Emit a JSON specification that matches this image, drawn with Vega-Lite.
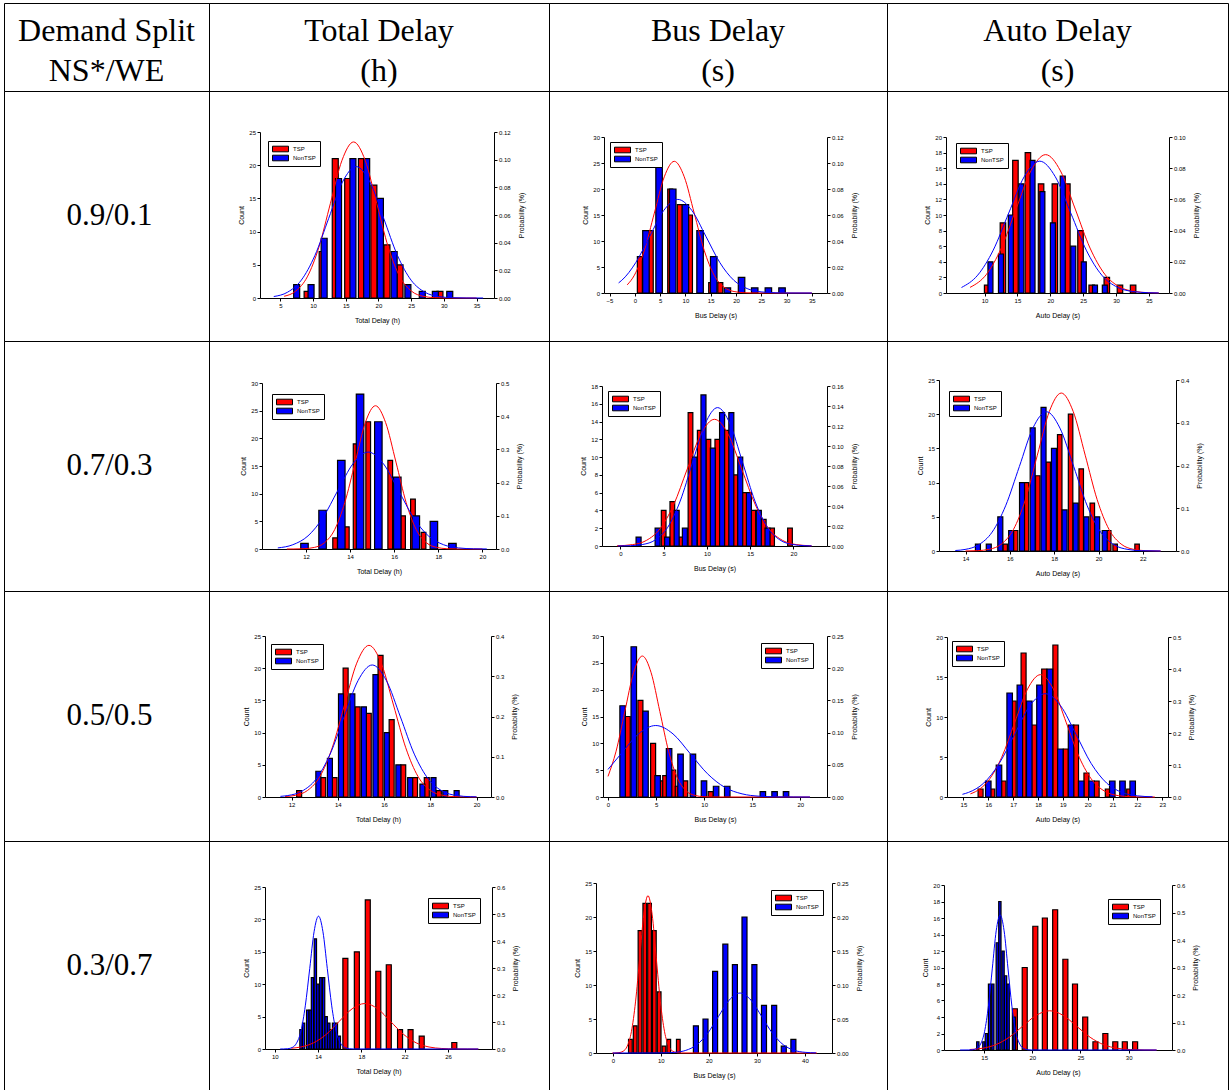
{
"$schema":"https://vega.github.io/schema/vega-lite/v6.json",
"padding":{"left":3,"top":2,"right":0,"bottom":0},
"background":"white",
"columns":4,"spacing":0,"bounds":"flush","align":"each",
"datasets":{
"bars":[
{"p":1,"s":"TSP","x":9.1,"n":1},{"p":1,"s":"TSP","x":11.4,"n":7},{"p":1,"s":"TSP","x":13.4,"n":21},{"p":1,"s":"TSP","x":15.3,"n":18},{"p":1,"s":"TSP","x":17.4,"n":21},{"p":1,"s":"TSP","x":19.3,"n":17},{"p":1,"s":"TSP","x":21.3,"n":8},{"p":1,"s":"TSP","x":23.3,"n":5},{"p":1,"s":"TSP","x":29.4,"n":1},
{"p":1,"s":"NonTSP","x":7.5,"n":2},{"p":1,"s":"NonTSP","x":9.7,"n":2},{"p":1,"s":"NonTSP","x":11.7,"n":9},{"p":1,"s":"NonTSP","x":13.9,"n":18},{"p":1,"s":"NonTSP","x":16.1,"n":21},{"p":1,"s":"NonTSP","x":18.2,"n":21},{"p":1,"s":"NonTSP","x":20.3,"n":15},{"p":1,"s":"NonTSP","x":22.4,"n":7},{"p":1,"s":"NonTSP","x":24.5,"n":2},{"p":1,"s":"NonTSP","x":26.7,"n":1},{"p":1,"s":"NonTSP","x":28.7,"n":1},{"p":1,"s":"NonTSP","x":30.9,"n":1},
{"p":2,"s":"TSP","x":1.0,"n":7},{"p":2,"s":"TSP","x":3.15,"n":12},{"p":2,"s":"TSP","x":7.0,"n":20},{"p":2,"s":"TSP","x":8.9,"n":17},{"p":2,"s":"TSP","x":10.9,"n":15},{"p":2,"s":"TSP","x":15.1,"n":2},{"p":2,"s":"TSP","x":16.9,"n":2},
{"p":2,"s":"NonTSP","x":2.2,"n":12},{"p":2,"s":"NonTSP","x":4.8,"n":25},{"p":2,"s":"NonTSP","x":7.5,"n":20},{"p":2,"s":"NonTSP","x":10.0,"n":17},{"p":2,"s":"NonTSP","x":12.9,"n":12},{"p":2,"s":"NonTSP","x":15.6,"n":7},{"p":2,"s":"NonTSP","x":18.3,"n":1},{"p":2,"s":"NonTSP","x":21.1,"n":3},{"p":2,"s":"NonTSP","x":23.7,"n":1},{"p":2,"s":"NonTSP","x":26.4,"n":1},{"p":2,"s":"NonTSP","x":29.1,"n":1},
{"p":3,"s":"TSP","x":10.4,"n":1},{"p":3,"s":"TSP","x":12.8,"n":9},{"p":3,"s":"TSP","x":14.7,"n":17},{"p":3,"s":"TSP","x":16.6,"n":18},{"p":3,"s":"TSP","x":18.6,"n":14},{"p":3,"s":"TSP","x":20.7,"n":14},{"p":3,"s":"TSP","x":22.6,"n":14},{"p":3,"s":"TSP","x":24.6,"n":8},{"p":3,"s":"TSP","x":26.3,"n":1},{"p":3,"s":"TSP","x":28.6,"n":2},{"p":3,"s":"TSP","x":30.6,"n":1},{"p":3,"s":"TSP","x":32.6,"n":1},
{"p":3,"s":"NonTSP","x":10.9,"n":4},{"p":3,"s":"NonTSP","x":12.5,"n":5},{"p":3,"s":"NonTSP","x":14.0,"n":10},{"p":3,"s":"NonTSP","x":15.6,"n":14},{"p":3,"s":"NonTSP","x":17.3,"n":17},{"p":3,"s":"NonTSP","x":18.8,"n":13},{"p":3,"s":"NonTSP","x":20.4,"n":9},{"p":3,"s":"NonTSP","x":21.9,"n":15},{"p":3,"s":"NonTSP","x":23.5,"n":6},{"p":3,"s":"NonTSP","x":25.1,"n":4},{"p":3,"s":"NonTSP","x":26.8,"n":1},{"p":3,"s":"NonTSP","x":28.3,"n":1},
{"p":4,"s":"TSP","x":13.32,"n":2},{"p":4,"s":"TSP","x":13.85,"n":4},{"p":4,"s":"TSP","x":14.25,"n":19},{"p":4,"s":"TSP","x":14.82,"n":23},{"p":4,"s":"TSP","x":15.82,"n":16},{"p":4,"s":"TSP","x":16.4,"n":6},{"p":4,"s":"TSP","x":16.85,"n":9},{"p":4,"s":"TSP","x":17.33,"n":3},
{"p":4,"s":"NonTSP","x":11.93,"n":1},{"p":4,"s":"NonTSP","x":12.75,"n":7},{"p":4,"s":"NonTSP","x":13.6,"n":16},{"p":4,"s":"NonTSP","x":14.45,"n":28},{"p":4,"s":"NonTSP","x":15.28,"n":23},{"p":4,"s":"NonTSP","x":16.14,"n":13},{"p":4,"s":"NonTSP","x":16.98,"n":6},{"p":4,"s":"NonTSP","x":17.8,"n":5},{"p":4,"s":"NonTSP","x":18.64,"n":1},
{"p":5,"s":"TSP","x":5.0,"n":4},{"p":5,"s":"TSP","x":6.0,"n":5},{"p":5,"s":"TSP","x":7.0,"n":1},{"p":5,"s":"TSP","x":8.1,"n":15},{"p":5,"s":"TSP","x":9.17,"n":13},{"p":5,"s":"TSP","x":10.17,"n":12},{"p":5,"s":"TSP","x":11.2,"n":12},{"p":5,"s":"TSP","x":12.3,"n":13},{"p":5,"s":"TSP","x":13.3,"n":8},{"p":5,"s":"TSP","x":14.33,"n":6},{"p":5,"s":"TSP","x":15.36,"n":4},{"p":5,"s":"TSP","x":16.57,"n":3},{"p":5,"s":"TSP","x":17.53,"n":2},{"p":5,"s":"TSP","x":19.6,"n":2},
{"p":5,"s":"NonTSP","x":2.1,"n":1},{"p":5,"s":"NonTSP","x":4.3,"n":2},{"p":5,"s":"NonTSP","x":5.4,"n":1},{"p":5,"s":"NonTSP","x":6.5,"n":4},{"p":5,"s":"NonTSP","x":7.45,"n":2},{"p":5,"s":"NonTSP","x":8.55,"n":10},{"p":5,"s":"NonTSP","x":9.6,"n":17},{"p":5,"s":"NonTSP","x":10.68,"n":11},{"p":5,"s":"NonTSP","x":11.75,"n":15},{"p":5,"s":"NonTSP","x":12.82,"n":15},{"p":5,"s":"NonTSP","x":13.85,"n":10},{"p":5,"s":"NonTSP","x":14.85,"n":6},{"p":5,"s":"NonTSP","x":16.0,"n":4},{"p":5,"s":"NonTSP","x":17.0,"n":2},
{"p":6,"s":"TSP","x":15.79,"n":1},{"p":6,"s":"TSP","x":16.26,"n":3},{"p":6,"s":"TSP","x":16.75,"n":10},{"p":6,"s":"TSP","x":17.26,"n":11},{"p":6,"s":"TSP","x":17.73,"n":13},{"p":6,"s":"TSP","x":18.25,"n":17},{"p":6,"s":"TSP","x":18.74,"n":20},{"p":6,"s":"TSP","x":19.22,"n":12},{"p":6,"s":"TSP","x":19.72,"n":7},{"p":6,"s":"TSP","x":20.46,"n":3},{"p":6,"s":"TSP","x":20.75,"n":1},{"p":6,"s":"TSP","x":21.74,"n":1},
{"p":6,"s":"NonTSP","x":14.56,"n":1},{"p":6,"s":"NonTSP","x":15.05,"n":1},{"p":6,"s":"NonTSP","x":15.57,"n":5},{"p":6,"s":"NonTSP","x":16.06,"n":3},{"p":6,"s":"NonTSP","x":16.55,"n":10},{"p":6,"s":"NonTSP","x":17.03,"n":18},{"p":6,"s":"NonTSP","x":17.52,"n":21},{"p":6,"s":"NonTSP","x":17.99,"n":15},{"p":6,"s":"NonTSP","x":18.47,"n":6},{"p":6,"s":"NonTSP","x":18.97,"n":7},{"p":6,"s":"NonTSP","x":19.45,"n":5},{"p":6,"s":"NonTSP","x":19.94,"n":5},{"p":6,"s":"NonTSP","x":20.28,"n":3},
{"p":7,"s":"TSP","x":12.33,"n":1},{"p":7,"s":"TSP","x":13.37,"n":3},{"p":7,"s":"TSP","x":13.86,"n":3},{"p":7,"s":"TSP","x":14.34,"n":20},{"p":7,"s":"TSP","x":14.86,"n":14},{"p":7,"s":"TSP","x":15.34,"n":13},{"p":7,"s":"TSP","x":15.85,"n":22},{"p":7,"s":"TSP","x":16.33,"n":12},{"p":7,"s":"TSP","x":16.83,"n":5},{"p":7,"s":"TSP","x":17.34,"n":3},{"p":7,"s":"TSP","x":17.85,"n":3},{"p":7,"s":"TSP","x":18.37,"n":1},
{"p":7,"s":"NonTSP","x":13.16,"n":4},{"p":7,"s":"NonTSP","x":13.66,"n":6},{"p":7,"s":"NonTSP","x":14.14,"n":16},{"p":7,"s":"NonTSP","x":14.63,"n":16},{"p":7,"s":"NonTSP","x":15.13,"n":14},{"p":7,"s":"NonTSP","x":15.63,"n":19},{"p":7,"s":"NonTSP","x":16.12,"n":10},{"p":7,"s":"NonTSP","x":16.62,"n":5},{"p":7,"s":"NonTSP","x":17.13,"n":3},{"p":7,"s":"NonTSP","x":17.66,"n":2},{"p":7,"s":"NonTSP","x":18.14,"n":3},{"p":7,"s":"NonTSP","x":18.65,"n":1},{"p":7,"s":"NonTSP","x":19.14,"n":1},
{"p":8,"s":"TSP","x":2.05,"n":15},{"p":8,"s":"TSP","x":3.37,"n":18},{"p":8,"s":"TSP","x":4.69,"n":10},{"p":8,"s":"TSP","x":5.5,"n":3},{"p":8,"s":"TSP","x":5.95,"n":4},{"p":8,"s":"TSP","x":6.78,"n":5},{"p":8,"s":"TSP","x":7.25,"n":2},{"p":8,"s":"TSP","x":8.03,"n":3},{"p":8,"s":"TSP","x":10.68,"n":1},
{"p":8,"s":"NonTSP","x":1.52,"n":17},{"p":8,"s":"NonTSP","x":2.68,"n":28},{"p":8,"s":"NonTSP","x":3.9,"n":16},{"p":8,"s":"NonTSP","x":5.16,"n":4},{"p":8,"s":"NonTSP","x":6.35,"n":9},{"p":8,"s":"NonTSP","x":7.54,"n":8},{"p":8,"s":"NonTSP","x":8.83,"n":8},{"p":8,"s":"NonTSP","x":9.98,"n":3},{"p":8,"s":"NonTSP","x":11.24,"n":2},{"p":8,"s":"NonTSP","x":12.4,"n":2},{"p":8,"s":"NonTSP","x":16.1,"n":1},{"p":8,"s":"NonTSP","x":17.32,"n":1},{"p":8,"s":"NonTSP","x":18.51,"n":1},
{"p":9,"s":"TSP","x":15.69,"n":1},{"p":9,"s":"TSP","x":16.16,"n":1},{"p":9,"s":"TSP","x":16.61,"n":2},{"p":9,"s":"TSP","x":17.02,"n":12},{"p":9,"s":"TSP","x":17.42,"n":18},{"p":9,"s":"TSP","x":17.84,"n":9},{"p":9,"s":"TSP","x":18.25,"n":16},{"p":9,"s":"TSP","x":18.7,"n":19},{"p":9,"s":"TSP","x":19.12,"n":6},{"p":9,"s":"TSP","x":19.53,"n":9},{"p":9,"s":"TSP","x":19.95,"n":3},{"p":9,"s":"TSP","x":20.36,"n":2},{"p":9,"s":"TSP","x":20.81,"n":1},{"p":9,"s":"TSP","x":21.67,"n":1},
{"p":9,"s":"NonTSP","x":16.0,"n":2},{"p":9,"s":"NonTSP","x":16.43,"n":4},{"p":9,"s":"NonTSP","x":16.86,"n":13},{"p":9,"s":"NonTSP","x":17.27,"n":14},{"p":9,"s":"NonTSP","x":17.65,"n":12},{"p":9,"s":"NonTSP","x":18.06,"n":14},{"p":9,"s":"NonTSP","x":18.48,"n":16},{"p":9,"s":"NonTSP","x":18.9,"n":6},{"p":9,"s":"NonTSP","x":19.33,"n":9},{"p":9,"s":"NonTSP","x":19.74,"n":2},{"p":9,"s":"NonTSP","x":20.16,"n":2},{"p":9,"s":"NonTSP","x":20.99,"n":2},{"p":9,"s":"NonTSP","x":21.4,"n":2},{"p":9,"s":"NonTSP","x":21.81,"n":2},
{"p":10,"s":"TSP","x":16.52,"n":14},{"p":10,"s":"TSP","x":17.58,"n":15},{"p":10,"s":"TSP","x":18.59,"n":23},{"p":10,"s":"TSP","x":19.56,"n":12},{"p":10,"s":"TSP","x":20.53,"n":13},{"p":10,"s":"TSP","x":21.57,"n":3},{"p":10,"s":"TSP","x":22.54,"n":3},{"p":10,"s":"TSP","x":23.57,"n":2},{"p":10,"s":"TSP","x":26.58,"n":1},
{"p":10,"s":"NonTSP","x":12.42,"n":3},{"p":10,"s":"NonTSP","x":12.66,"n":4},{"p":10,"s":"NonTSP","x":13.04,"n":6},{"p":10,"s":"NonTSP","x":13.28,"n":6},{"p":10,"s":"NonTSP","x":13.48,"n":11},{"p":10,"s":"NonTSP","x":13.75,"n":17},{"p":10,"s":"NonTSP","x":13.98,"n":10},{"p":10,"s":"NonTSP","x":14.25,"n":11},{"p":10,"s":"NonTSP","x":14.51,"n":11},{"p":10,"s":"NonTSP","x":14.75,"n":5},{"p":10,"s":"NonTSP","x":14.99,"n":4},{"p":10,"s":"NonTSP","x":15.22,"n":3},{"p":10,"s":"NonTSP","x":15.43,"n":4},{"p":10,"s":"NonTSP","x":15.69,"n":4},{"p":10,"s":"NonTSP","x":15.96,"n":2},
{"p":11,"s":"TSP","x":3.66,"n":2},{"p":11,"s":"TSP","x":4.66,"n":4},{"p":11,"s":"TSP","x":5.66,"n":18},{"p":11,"s":"TSP","x":6.66,"n":22},{"p":11,"s":"TSP","x":7.65,"n":22},{"p":11,"s":"TSP","x":8.65,"n":18},{"p":11,"s":"TSP","x":9.65,"n":9},{"p":11,"s":"TSP","x":10.65,"n":1},{"p":11,"s":"TSP","x":11.65,"n":2},{"p":11,"s":"TSP","x":13.64,"n":2},
{"p":11,"s":"NonTSP","x":17.3,"n":4},{"p":11,"s":"NonTSP","x":19.3,"n":5},{"p":11,"s":"NonTSP","x":21.3,"n":12},{"p":11,"s":"NonTSP","x":23.43,"n":16},{"p":11,"s":"NonTSP","x":25.42,"n":13},{"p":11,"s":"NonTSP","x":27.42,"n":20},{"p":11,"s":"NonTSP","x":29.48,"n":13},{"p":11,"s":"NonTSP","x":31.48,"n":7},{"p":11,"s":"NonTSP","x":33.6,"n":7},{"p":11,"s":"NonTSP","x":35.6,"n":1},{"p":11,"s":"NonTSP","x":37.6,"n":2},
{"p":12,"s":"TSP","x":18.19,"n":5},{"p":12,"s":"TSP","x":19.21,"n":10},{"p":12,"s":"TSP","x":20.31,"n":15},{"p":12,"s":"TSP","x":21.3,"n":16},{"p":12,"s":"TSP","x":22.37,"n":17},{"p":12,"s":"TSP","x":23.43,"n":11},{"p":12,"s":"TSP","x":24.43,"n":8},{"p":12,"s":"TSP","x":25.49,"n":4},{"p":12,"s":"TSP","x":26.55,"n":1},{"p":12,"s":"TSP","x":27.58,"n":2},{"p":12,"s":"TSP","x":28.61,"n":1},{"p":12,"s":"TSP","x":29.6,"n":1},{"p":12,"s":"TSP","x":30.67,"n":1},
{"p":12,"s":"NonTSP","x":14.34,"n":1},{"p":12,"s":"NonTSP","x":14.97,"n":1},{"p":12,"s":"NonTSP","x":15.23,"n":2},{"p":12,"s":"NonTSP","x":15.56,"n":8},{"p":12,"s":"NonTSP","x":15.9,"n":8},{"p":12,"s":"NonTSP","x":16.36,"n":13},{"p":12,"s":"NonTSP","x":16.63,"n":18},{"p":12,"s":"NonTSP","x":16.96,"n":12},{"p":12,"s":"NonTSP","x":17.22,"n":9},{"p":12,"s":"NonTSP","x":17.49,"n":8},{"p":12,"s":"NonTSP","x":18.12,"n":4}
],
"curves":[
{"p":1,"s":"TSP","x":5.58,"d":0.00125},{"p":1,"s":"TSP","x":7.35,"d":0.00496},{"p":1,"s":"TSP","x":9.12,"d":0.01526},{"p":1,"s":"TSP","x":10.89,"d":0.03663},{"p":1,"s":"TSP","x":12.66,"d":0.06841},{"p":1,"s":"TSP","x":14.43,"d":0.09955},{"p":1,"s":"TSP","x":16.2,"d":0.1128},{"p":1,"s":"TSP","x":17.97,"d":0.09955},{"p":1,"s":"TSP","x":19.74,"d":0.06841},{"p":1,"s":"TSP","x":21.51,"d":0.03663},{"p":1,"s":"TSP","x":23.28,"d":0.01526},{"p":1,"s":"TSP","x":25.05,"d":0.00496},{"p":1,"s":"TSP","x":26.82,"d":0.00125},{"p":1,"s":"TSP","x":28.59,"d":0.00025},{"p":1,"s":"TSP","x":30.36,"d":0.00004},{"p":1,"s":"TSP","x":35,"d":0},
{"p":1,"s":"NonTSP","x":4.0,"d":0.00106},{"p":1,"s":"NonTSP","x":6.1,"d":0.00417},{"p":1,"s":"NonTSP","x":8.2,"d":0.01285},{"p":1,"s":"NonTSP","x":10.3,"d":0.03085},{"p":1,"s":"NonTSP","x":12.4,"d":0.05762},{"p":1,"s":"NonTSP","x":14.5,"d":0.08384},{"p":1,"s":"NonTSP","x":16.6,"d":0.095},{"p":1,"s":"NonTSP","x":18.7,"d":0.08384},{"p":1,"s":"NonTSP","x":20.8,"d":0.05762},{"p":1,"s":"NonTSP","x":22.9,"d":0.03085},{"p":1,"s":"NonTSP","x":25.0,"d":0.01285},{"p":1,"s":"NonTSP","x":27.1,"d":0.00417},{"p":1,"s":"NonTSP","x":29.2,"d":0.00106},{"p":1,"s":"NonTSP","x":31.3,"d":0.00021},{"p":1,"s":"NonTSP","x":33.4,"d":0.00003},{"p":1,"s":"NonTSP","x":36,"d":0},
{"p":2,"s":"TSP","x":-1.5,"d":0.00625},{"p":2,"s":"TSP","x":-0.08,"d":0.01371},{"p":2,"s":"TSP","x":1.89,"d":0.03289},{"p":2,"s":"TSP","x":3.86,"d":0.06144},{"p":2,"s":"TSP","x":5.83,"d":0.0894},{"p":2,"s":"TSP","x":7.8,"d":0.1013},{"p":2,"s":"TSP","x":9.77,"d":0.0894},{"p":2,"s":"TSP","x":11.74,"d":0.06144},{"p":2,"s":"TSP","x":13.71,"d":0.03289},{"p":2,"s":"TSP","x":15.68,"d":0.01371},{"p":2,"s":"TSP","x":17.65,"d":0.00445},{"p":2,"s":"TSP","x":19.62,"d":0.00113},{"p":2,"s":"TSP","x":21.59,"d":0.00022},{"p":2,"s":"TSP","x":23.56,"d":0.00003},{"p":2,"s":"TSP","x":35,"d":0},
{"p":2,"s":"NonTSP","x":-3.2,"d":0.00778},{"p":2,"s":"NonTSP","x":-2.58,"d":0.00974},{"p":2,"s":"NonTSP","x":0.19,"d":0.02338},{"p":2,"s":"NonTSP","x":2.96,"d":0.04367},{"p":2,"s":"NonTSP","x":5.73,"d":0.06354},{"p":2,"s":"NonTSP","x":8.5,"d":0.072},{"p":2,"s":"NonTSP","x":11.27,"d":0.06354},{"p":2,"s":"NonTSP","x":14.04,"d":0.04367},{"p":2,"s":"NonTSP","x":16.81,"d":0.02338},{"p":2,"s":"NonTSP","x":19.58,"d":0.00974},{"p":2,"s":"NonTSP","x":22.35,"d":0.00316},{"p":2,"s":"NonTSP","x":25.12,"d":0.0008},{"p":2,"s":"NonTSP","x":27.89,"d":0.00016},{"p":2,"s":"NonTSP","x":30.66,"d":0.00002},{"p":2,"s":"NonTSP","x":35,"d":0},
{"p":3,"s":"TSP","x":7.8,"d":0.00361},{"p":3,"s":"TSP","x":10.3,"d":0.012},{"p":3,"s":"TSP","x":12.55,"d":0.0288},{"p":3,"s":"TSP","x":14.8,"d":0.0538},{"p":3,"s":"TSP","x":17.05,"d":0.07828},{"p":3,"s":"TSP","x":19.3,"d":0.0887},{"p":3,"s":"TSP","x":21.55,"d":0.07828},{"p":3,"s":"TSP","x":23.8,"d":0.0538},{"p":3,"s":"TSP","x":26.05,"d":0.0288},{"p":3,"s":"TSP","x":28.3,"d":0.012},{"p":3,"s":"TSP","x":30.55,"d":0.0039},{"p":3,"s":"TSP","x":32.8,"d":0.00099},{"p":3,"s":"TSP","x":35.05,"d":0.00019},{"p":3,"s":"TSP","x":36.5,"d":0.00005},
{"p":3,"s":"NonTSP","x":6.5,"d":0.00353},{"p":3,"s":"NonTSP","x":8.96,"d":0.01143},{"p":3,"s":"NonTSP","x":11.32,"d":0.02744},{"p":3,"s":"NonTSP","x":13.68,"d":0.05125},{"p":3,"s":"NonTSP","x":16.04,"d":0.07457},{"p":3,"s":"NonTSP","x":18.4,"d":0.0845},{"p":3,"s":"NonTSP","x":20.76,"d":0.07457},{"p":3,"s":"NonTSP","x":23.12,"d":0.05125},{"p":3,"s":"NonTSP","x":25.48,"d":0.02744},{"p":3,"s":"NonTSP","x":27.84,"d":0.01143},{"p":3,"s":"NonTSP","x":30.2,"d":0.00371},{"p":3,"s":"NonTSP","x":32.56,"d":0.00094},{"p":3,"s":"NonTSP","x":34.92,"d":0.00018},{"p":3,"s":"NonTSP","x":36.5,"d":0.00003},
{"p":4,"s":"TSP","x":11.13,"d":0.00003},{"p":4,"s":"TSP","x":11.45,"d":0.00014},{"p":4,"s":"TSP","x":11.91,"d":0.00094},{"p":4,"s":"TSP","x":12.38,"d":0.00479},{"p":4,"s":"TSP","x":12.84,"d":0.01896},{"p":4,"s":"TSP","x":13.3,"d":0.05838},{"p":4,"s":"TSP","x":13.76,"d":0.1401},{"p":4,"s":"TSP","x":14.23,"d":0.2617},{"p":4,"s":"TSP","x":14.69,"d":0.3808},{"p":4,"s":"TSP","x":15.15,"d":0.4315},{"p":4,"s":"TSP","x":15.61,"d":0.3808},{"p":4,"s":"TSP","x":16.08,"d":0.2617},{"p":4,"s":"TSP","x":16.54,"d":0.1401},{"p":4,"s":"TSP","x":17.0,"d":0.05838},{"p":4,"s":"TSP","x":17.46,"d":0.01896},{"p":4,"s":"TSP","x":17.93,"d":0.00479},{"p":4,"s":"TSP","x":18.39,"d":0.00094},{"p":4,"s":"TSP","x":18.85,"d":0.00014},{"p":4,"s":"TSP","x":20,"d":0},
{"p":4,"s":"NonTSP","x":10.72,"d":0.00324},{"p":4,"s":"NonTSP","x":11.4,"d":0.01283},{"p":4,"s":"NonTSP","x":12.09,"d":0.03951},{"p":4,"s":"NonTSP","x":12.77,"d":0.09481},{"p":4,"s":"NonTSP","x":13.45,"d":0.1771},{"p":4,"s":"NonTSP","x":14.14,"d":0.2577},{"p":4,"s":"NonTSP","x":14.82,"d":0.292},{"p":4,"s":"NonTSP","x":15.5,"d":0.2577},{"p":4,"s":"NonTSP","x":16.19,"d":0.1771},{"p":4,"s":"NonTSP","x":16.87,"d":0.09481},{"p":4,"s":"NonTSP","x":17.55,"d":0.03951},{"p":4,"s":"NonTSP","x":18.24,"d":0.01283},{"p":4,"s":"NonTSP","x":18.92,"d":0.00324},{"p":4,"s":"NonTSP","x":19.6,"d":0.00064},{"p":4,"s":"NonTSP","x":20.2,"d":0.0001},
{"p":5,"s":"TSP","x":-0.4,"d":0.0002},{"p":5,"s":"TSP","x":1.42,"d":0.00141},{"p":5,"s":"TSP","x":3.0,"d":0.00557},{"p":5,"s":"TSP","x":4.57,"d":0.01714},{"p":5,"s":"TSP","x":6.15,"d":0.04114},{"p":5,"s":"TSP","x":7.72,"d":0.07684},{"p":5,"s":"TSP","x":9.3,"d":0.1118},{"p":5,"s":"TSP","x":10.87,"d":0.1267},{"p":5,"s":"TSP","x":12.45,"d":0.1118},{"p":5,"s":"TSP","x":14.02,"d":0.07684},{"p":5,"s":"TSP","x":15.6,"d":0.04114},{"p":5,"s":"TSP","x":17.17,"d":0.01714},{"p":5,"s":"TSP","x":18.75,"d":0.00557},{"p":5,"s":"TSP","x":20.32,"d":0.00141},{"p":5,"s":"TSP","x":21.9,"d":0.00028},{"p":5,"s":"TSP","x":22.1,"d":0.0002},
{"p":5,"s":"NonTSP","x":-0.29,"d":0.00005},{"p":5,"s":"NonTSP","x":1.15,"d":0.0003},{"p":5,"s":"NonTSP","x":2.59,"d":0.00154},{"p":5,"s":"NonTSP","x":4.03,"d":0.00608},{"p":5,"s":"NonTSP","x":5.47,"d":0.01873},{"p":5,"s":"NonTSP","x":6.91,"d":0.04494},{"p":5,"s":"NonTSP","x":8.35,"d":0.08394},{"p":5,"s":"NonTSP","x":9.79,"d":0.1221},{"p":5,"s":"NonTSP","x":11.23,"d":0.1384},{"p":5,"s":"NonTSP","x":12.67,"d":0.1221},{"p":5,"s":"NonTSP","x":14.11,"d":0.08394},{"p":5,"s":"NonTSP","x":15.55,"d":0.04494},{"p":5,"s":"NonTSP","x":16.99,"d":0.01873},{"p":5,"s":"NonTSP","x":18.43,"d":0.00608},{"p":5,"s":"NonTSP","x":19.87,"d":0.00154},{"p":5,"s":"NonTSP","x":21.31,"d":0.0003},{"p":5,"s":"NonTSP","x":22.1,"d":0.0001},
{"p":6,"s":"TSP","x":14.0,"d":0.00012},{"p":6,"s":"TSP","x":14.54,"d":0.00081},{"p":6,"s":"TSP","x":15.08,"d":0.0041},{"p":6,"s":"TSP","x":15.62,"d":0.01624},{"p":6,"s":"TSP","x":16.16,"d":0.05},{"p":6,"s":"TSP","x":16.7,"d":0.12},{"p":6,"s":"TSP","x":17.24,"d":0.2241},{"p":6,"s":"TSP","x":17.78,"d":0.3261},{"p":6,"s":"TSP","x":18.32,"d":0.3695},{"p":6,"s":"TSP","x":18.86,"d":0.3261},{"p":6,"s":"TSP","x":19.4,"d":0.2241},{"p":6,"s":"TSP","x":19.94,"d":0.12},{"p":6,"s":"TSP","x":20.48,"d":0.05},{"p":6,"s":"TSP","x":21.02,"d":0.01624},{"p":6,"s":"TSP","x":21.56,"d":0.0041},{"p":6,"s":"TSP","x":22.1,"d":0.00081},{"p":6,"s":"TSP","x":22.8,"d":0.0001},
{"p":6,"s":"NonTSP","x":13.54,"d":0.00117},{"p":6,"s":"NonTSP","x":13.98,"d":0.00362},{"p":6,"s":"NonTSP","x":14.59,"d":0.01432},{"p":6,"s":"NonTSP","x":15.2,"d":0.04408},{"p":6,"s":"NonTSP","x":15.81,"d":0.1058},{"p":6,"s":"NonTSP","x":16.43,"d":0.1976},{"p":6,"s":"NonTSP","x":17.04,"d":0.2875},{"p":6,"s":"NonTSP","x":17.65,"d":0.3258},{"p":6,"s":"NonTSP","x":18.26,"d":0.2875},{"p":6,"s":"NonTSP","x":18.88,"d":0.1976},{"p":6,"s":"NonTSP","x":19.49,"d":0.1058},{"p":6,"s":"NonTSP","x":20.1,"d":0.04408},{"p":6,"s":"NonTSP","x":20.71,"d":0.01432},{"p":6,"s":"NonTSP","x":21.33,"d":0.00362},{"p":6,"s":"NonTSP","x":21.94,"d":0.00071},{"p":6,"s":"NonTSP","x":22.8,"d":0.00005},
{"p":7,"s":"TSP","x":11.72,"d":0.00105},{"p":7,"s":"TSP","x":12.17,"d":0.00419},{"p":7,"s":"TSP","x":12.7,"d":0.01656},{"p":7,"s":"TSP","x":13.23,"d":0.05098},{"p":7,"s":"TSP","x":13.76,"d":0.1223},{"p":7,"s":"TSP","x":14.29,"d":0.2285},{"p":7,"s":"TSP","x":14.82,"d":0.3325},{"p":7,"s":"TSP","x":15.35,"d":0.3768},{"p":7,"s":"TSP","x":15.88,"d":0.3325},{"p":7,"s":"TSP","x":16.41,"d":0.2285},{"p":7,"s":"TSP","x":16.94,"d":0.1223},{"p":7,"s":"TSP","x":17.47,"d":0.05098},{"p":7,"s":"TSP","x":18.0,"d":0.01656},{"p":7,"s":"TSP","x":18.53,"d":0.00419},{"p":7,"s":"TSP","x":19.06,"d":0.00082},{"p":7,"s":"TSP","x":20.0,"d":0.00002},
{"p":7,"s":"NonTSP","x":11.52,"d":0.00162},{"p":7,"s":"NonTSP","x":11.84,"d":0.00364},{"p":7,"s":"NonTSP","x":12.45,"d":0.01441},{"p":7,"s":"NonTSP","x":13.06,"d":0.04438},{"p":7,"s":"NonTSP","x":13.67,"d":0.1065},{"p":7,"s":"NonTSP","x":14.27,"d":0.1989},{"p":7,"s":"NonTSP","x":14.88,"d":0.2895},{"p":7,"s":"NonTSP","x":15.49,"d":0.328},{"p":7,"s":"NonTSP","x":16.1,"d":0.2895},{"p":7,"s":"NonTSP","x":16.71,"d":0.1989},{"p":7,"s":"NonTSP","x":17.31,"d":0.1065},{"p":7,"s":"NonTSP","x":17.92,"d":0.04438},{"p":7,"s":"NonTSP","x":18.53,"d":0.01441},{"p":7,"s":"NonTSP","x":19.14,"d":0.00364},{"p":7,"s":"NonTSP","x":19.75,"d":0.00072},{"p":7,"s":"NonTSP","x":20.0,"d":0.0004},
{"p":8,"s":"TSP","x":0,"d":0.032},{"p":8,"s":"TSP","x":0.84,"d":0.07108},{"p":8,"s":"TSP","x":1.75,"d":0.1328},{"p":8,"s":"TSP","x":2.66,"d":0.1932},{"p":8,"s":"TSP","x":3.57,"d":0.2189},{"p":8,"s":"TSP","x":4.48,"d":0.1932},{"p":8,"s":"TSP","x":5.39,"d":0.1328},{"p":8,"s":"TSP","x":6.3,"d":0.07108},{"p":8,"s":"TSP","x":7.21,"d":0.02962},{"p":8,"s":"TSP","x":8.12,"d":0.00962},{"p":8,"s":"TSP","x":9.03,"d":0.00243},{"p":8,"s":"TSP","x":9.94,"d":0.00048},{"p":8,"s":"TSP","x":10.85,"d":0.00007},{"p":8,"s":"TSP","x":21,"d":0},
{"p":8,"s":"NonTSP","x":0,"d":0.0428},{"p":8,"s":"NonTSP","x":1.37,"d":0.06732},{"p":8,"s":"NonTSP","x":3.17,"d":0.09796},{"p":8,"s":"NonTSP","x":4.96,"d":0.111},{"p":8,"s":"NonTSP","x":6.76,"d":0.09796},{"p":8,"s":"NonTSP","x":8.55,"d":0.06732},{"p":8,"s":"NonTSP","x":10.35,"d":0.03604},{"p":8,"s":"NonTSP","x":12.14,"d":0.01502},{"p":8,"s":"NonTSP","x":13.94,"d":0.00488},{"p":8,"s":"NonTSP","x":15.73,"d":0.00123},{"p":8,"s":"NonTSP","x":17.53,"d":0.00024},{"p":8,"s":"NonTSP","x":19.32,"d":0.00004},{"p":8,"s":"NonTSP","x":21,"d":0},
{"p":9,"s":"TSP","x":15.28,"d":0.00994},{"p":9,"s":"TSP","x":15.49,"d":0.0168},{"p":9,"s":"TSP","x":16.01,"d":0.05172},{"p":9,"s":"TSP","x":16.54,"d":0.1241},{"p":9,"s":"TSP","x":17.06,"d":0.2319},{"p":9,"s":"TSP","x":17.58,"d":0.3374},{"p":9,"s":"TSP","x":18.1,"d":0.3823},{"p":9,"s":"TSP","x":18.62,"d":0.3374},{"p":9,"s":"TSP","x":19.14,"d":0.2319},{"p":9,"s":"TSP","x":19.66,"d":0.1241},{"p":9,"s":"TSP","x":20.19,"d":0.05172},{"p":9,"s":"TSP","x":20.71,"d":0.0168},{"p":9,"s":"TSP","x":21.23,"d":0.00425},{"p":9,"s":"TSP","x":21.75,"d":0.00084},{"p":9,"s":"TSP","x":22.27,"d":0.00013},{"p":9,"s":"TSP","x":22.7,"d":0},
{"p":9,"s":"NonTSP","x":14.96,"d":0.0084},{"p":9,"s":"NonTSP","x":15.2,"d":0.01419},{"p":9,"s":"NonTSP","x":15.82,"d":0.04369},{"p":9,"s":"NonTSP","x":16.44,"d":0.1048},{"p":9,"s":"NonTSP","x":17.06,"d":0.1958},{"p":9,"s":"NonTSP","x":17.67,"d":0.285},{"p":9,"s":"NonTSP","x":18.29,"d":0.3229},{"p":9,"s":"NonTSP","x":18.91,"d":0.285},{"p":9,"s":"NonTSP","x":19.53,"d":0.1958},{"p":9,"s":"NonTSP","x":20.14,"d":0.1048},{"p":9,"s":"NonTSP","x":20.76,"d":0.04369},{"p":9,"s":"NonTSP","x":21.38,"d":0.01419},{"p":9,"s":"NonTSP","x":22.0,"d":0.00359},{"p":9,"s":"NonTSP","x":22.61,"d":0.00071},
{"p":10,"s":"TSP","x":11.53,"d":0.00276},{"p":10,"s":"TSP","x":12.4,"d":0.0074},{"p":10,"s":"TSP","x":13.58,"d":0.0228},{"p":10,"s":"TSP","x":14.77,"d":0.05471},{"p":10,"s":"TSP","x":15.95,"d":0.1022},{"p":10,"s":"TSP","x":17.14,"d":0.1487},{"p":10,"s":"TSP","x":18.32,"d":0.1685},{"p":10,"s":"TSP","x":19.51,"d":0.1487},{"p":10,"s":"TSP","x":20.69,"d":0.1022},{"p":10,"s":"TSP","x":21.88,"d":0.05471},{"p":10,"s":"TSP","x":23.06,"d":0.0228},{"p":10,"s":"TSP","x":24.25,"d":0.0074},{"p":10,"s":"TSP","x":25.43,"d":0.00187},{"p":10,"s":"TSP","x":26.62,"d":0.00037},{"p":10,"s":"TSP","x":27.8,"d":0.00006},{"p":10,"s":"TSP","x":28.8,"d":0},
{"p":10,"s":"NonTSP","x":10.5,"d":0.00003},{"p":10,"s":"NonTSP","x":10.8,"d":0.00016},{"p":10,"s":"NonTSP","x":11.2,"d":0.00108},{"p":10,"s":"NonTSP","x":11.61,"d":0.00547},{"p":10,"s":"NonTSP","x":12.01,"d":0.02162},{"p":10,"s":"NonTSP","x":12.42,"d":0.06657},{"p":10,"s":"NonTSP","x":12.82,"d":0.1598},{"p":10,"s":"NonTSP","x":13.23,"d":0.2984},{"p":10,"s":"NonTSP","x":13.63,"d":0.4342},{"p":10,"s":"NonTSP","x":14.04,"d":0.492},{"p":10,"s":"NonTSP","x":14.45,"d":0.4342},{"p":10,"s":"NonTSP","x":14.85,"d":0.2984},{"p":10,"s":"NonTSP","x":15.26,"d":0.1598},{"p":10,"s":"NonTSP","x":15.66,"d":0.06657},{"p":10,"s":"NonTSP","x":16.07,"d":0.02162},{"p":10,"s":"NonTSP","x":16.47,"d":0.00547},{"p":10,"s":"NonTSP","x":16.88,"d":0.00108},{"p":10,"s":"NonTSP","x":17.28,"d":0.00016},{"p":10,"s":"NonTSP","x":28.8,"d":0},
{"p":11,"s":"TSP","x":-0.1,"d":0.00001},{"p":11,"s":"TSP","x":0.42,"d":0.00008},{"p":11,"s":"TSP","x":1.29,"d":0.00051},{"p":11,"s":"TSP","x":2.15,"d":0.00257},{"p":11,"s":"TSP","x":3.01,"d":0.01017},{"p":11,"s":"TSP","x":3.87,"d":0.03131},{"p":11,"s":"TSP","x":4.73,"d":0.07514},{"p":11,"s":"TSP","x":5.6,"d":0.1403},{"p":11,"s":"TSP","x":6.46,"d":0.2042},{"p":11,"s":"TSP","x":7.32,"d":0.2314},{"p":11,"s":"TSP","x":8.18,"d":0.2042},{"p":11,"s":"TSP","x":9.04,"d":0.1403},{"p":11,"s":"TSP","x":9.91,"d":0.07514},{"p":11,"s":"TSP","x":10.77,"d":0.03131},{"p":11,"s":"TSP","x":11.63,"d":0.01017},{"p":11,"s":"TSP","x":12.49,"d":0.00257},{"p":11,"s":"TSP","x":13.35,"d":0.00051},{"p":11,"s":"TSP","x":14.22,"d":0.00008},{"p":11,"s":"TSP","x":42.5,"d":0},
{"p":11,"s":"NonTSP","x":0,"d":0},{"p":11,"s":"NonTSP","x":3.9,"d":0},{"p":11,"s":"NonTSP","x":8.42,"d":0.00003},{"p":11,"s":"NonTSP","x":10.68,"d":0.00019},{"p":11,"s":"NonTSP","x":12.94,"d":0.00098},{"p":11,"s":"NonTSP","x":15.2,"d":0.00388},{"p":11,"s":"NonTSP","x":17.46,"d":0.01193},{"p":11,"s":"NonTSP","x":19.72,"d":0.02864},{"p":11,"s":"NonTSP","x":21.98,"d":0.05349},{"p":11,"s":"NonTSP","x":24.24,"d":0.07784},{"p":11,"s":"NonTSP","x":26.5,"d":0.0882},{"p":11,"s":"NonTSP","x":28.76,"d":0.07784},{"p":11,"s":"NonTSP","x":31.02,"d":0.05349},{"p":11,"s":"NonTSP","x":33.28,"d":0.02864},{"p":11,"s":"NonTSP","x":35.54,"d":0.01193},{"p":11,"s":"NonTSP","x":37.8,"d":0.00388},{"p":11,"s":"NonTSP","x":40.06,"d":0.00098},{"p":11,"s":"NonTSP","x":42.32,"d":0.00019},
{"p":12,"s":"TSP","x":13.5,"d":0.00177},{"p":12,"s":"TSP","x":14.8,"d":0.00627},{"p":12,"s":"TSP","x":16.2,"d":0.01931},{"p":12,"s":"TSP","x":17.6,"d":0.04633},{"p":12,"s":"TSP","x":19.0,"d":0.08655},{"p":12,"s":"TSP","x":20.4,"d":0.1259},{"p":12,"s":"TSP","x":21.8,"d":0.1427},{"p":12,"s":"TSP","x":23.2,"d":0.1259},{"p":12,"s":"TSP","x":24.6,"d":0.08655},{"p":12,"s":"TSP","x":26.0,"d":0.04633},{"p":12,"s":"TSP","x":27.4,"d":0.01931},{"p":12,"s":"TSP","x":28.8,"d":0.00627},{"p":12,"s":"TSP","x":30.2,"d":0.00159},{"p":12,"s":"TSP","x":31.6,"d":0.00031},{"p":12,"s":"TSP","x":32.9,"d":0.00005},
{"p":12,"s":"NonTSP","x":12.5,"d":0},{"p":12,"s":"NonTSP","x":13.41,"d":0.00016},{"p":12,"s":"NonTSP","x":13.82,"d":0.00107},{"p":12,"s":"NonTSP","x":14.22,"d":0.00546},{"p":12,"s":"NonTSP","x":14.63,"d":0.02158},{"p":12,"s":"NonTSP","x":15.04,"d":0.06643},{"p":12,"s":"NonTSP","x":15.44,"d":0.1594},{"p":12,"s":"NonTSP","x":15.85,"d":0.2978},{"p":12,"s":"NonTSP","x":16.25,"d":0.4333},{"p":12,"s":"NonTSP","x":16.66,"d":0.491},{"p":12,"s":"NonTSP","x":17.07,"d":0.4333},{"p":12,"s":"NonTSP","x":17.47,"d":0.2978},{"p":12,"s":"NonTSP","x":17.88,"d":0.1594},{"p":12,"s":"NonTSP","x":18.28,"d":0.06643},{"p":12,"s":"NonTSP","x":18.69,"d":0.02158},{"p":12,"s":"NonTSP","x":19.1,"d":0.00546},{"p":12,"s":"NonTSP","x":19.5,"d":0.00107},{"p":12,"s":"NonTSP","x":19.91,"d":0.00016},{"p":12,"s":"NonTSP","x":32.9,"d":0}
]
},
"concat":[
 {"width":205,"height":88,"data":{"values":[{"t":"Demand Split\nNS*/WE"}]},"mark":{"type":"text","font":"Liberation Serif","fontSize":32,"lineBreak":"\n","lineHeight":40,"dy":-16,"color":"black"},"encoding":{"x":{"datum":0.5,"type":"quantitative","scale":{"domain":[0,1]},"axis":null},"y":{"datum":0.5,"type":"quantitative","scale":{"domain":[0,1]},"axis":null},"text":{"field":"t"}}},
 {"width":340,"height":88,"data":{"values":[{"t":"Total Delay\n(h)"}]},"mark":{"type":"text","font":"Liberation Serif","fontSize":32,"lineBreak":"\n","lineHeight":40,"dy":-16,"color":"black"},"encoding":{"x":{"datum":0.5,"type":"quantitative","scale":{"domain":[0,1]},"axis":null},"y":{"datum":0.5,"type":"quantitative","scale":{"domain":[0,1]},"axis":null},"text":{"field":"t"}}},
 {"width":338,"height":88,"data":{"values":[{"t":"Bus Delay\n(s)"}]},"mark":{"type":"text","font":"Liberation Serif","fontSize":32,"lineBreak":"\n","lineHeight":40,"dy":-16,"color":"black"},"encoding":{"x":{"datum":0.5,"type":"quantitative","scale":{"domain":[0,1]},"axis":null},"y":{"datum":0.5,"type":"quantitative","scale":{"domain":[0,1]},"axis":null},"text":{"field":"t"}}},
 {"width":341,"height":88,"data":{"values":[{"t":"Auto Delay\n(s)"}]},"mark":{"type":"text","font":"Liberation Serif","fontSize":32,"lineBreak":"\n","lineHeight":40,"dy":-16,"color":"black"},"encoding":{"x":{"datum":0.5,"type":"quantitative","scale":{"domain":[0,1]},"axis":null},"y":{"datum":0.5,"type":"quantitative","scale":{"domain":[0,1]},"axis":null},"text":{"field":"t"}}},
 {"width":205,"height":250,"data":{"values":[{"t":"0.9/0.1"}]},"mark":{"type":"text","font":"Liberation Serif","fontSize":31,"dx":3,"color":"black"},"encoding":{"x":{"datum":0.5,"type":"quantitative","scale":{"domain":[0,1]},"axis":null},"y":{"datum":0.5,"type":"quantitative","scale":{"domain":[0,1]},"axis":null},"text":{"field":"t"}}},
 {"width":340,"height":250,"resolve":{"scale":{"y":"independent"}},"layer":[
  {"data":{"name":"bars"},"transform":[{"filter":"datum.p==1"}],"mark":{"type":"bar","orient":"vertical","stroke":"black","strokeWidth":1.2},
   "encoding":{"x":{"field":"x","type":"quantitative","scale":{"domain":[2.66,36.9],"range":[51,285],"nice":false,"zero":false},"axis":{"title":"Total Delay (h)","values":[5,10,15,20,25,30,35],"offset":-43,"titlePadding":8}},
   "y":{"field":"n","type":"quantitative","scale":{"domain":[0,25],"range":[207,41],"nice":false},"axis":{"title":"Count","values":[0,5,10,15,20,25],"offset":-51}},
   "fill":{"field":"s","type":"nominal","scale":{"domain":["TSP","NonTSP"],"range":["#ff0000","#0000ff"]},"legend":{"orient":"none","legendX":59,"legendY":50,"title":null}},
   "size":{"field":"s","type":"nominal","scale":{"type":"point","range":[6,6],"padding":0},"legend":null}}},
  {"data":{"name":"curves"},"transform":[{"filter":"datum.p==1"}],"mark":{"type":"line","interpolate":"monotone","strokeWidth":1},
   "encoding":{"x":{"field":"x","type":"quantitative"},
   "y":{"field":"d","type":"quantitative","scale":{"domain":[0,0.12],"range":[207,41],"nice":false},"axis":{"orient":"right","title":"Probability (%)","values":[0,0.02,0.04,0.06,0.08,0.1,0.12],"format":".2f","offset":-55,"titleAngle":270,"titlePadding":14}},
   "stroke":{"field":"s","type":"nominal","scale":{"range":["#0000ff","#ff0000"]},"legend":null}}}
 ]},
 {"width":338,"height":250,"resolve":{"scale":{"y":"independent"}},"layer":[
  {"data":{"name":"bars"},"transform":[{"filter":"datum.p==2"}],"mark":{"type":"bar","orient":"vertical","stroke":"black","strokeWidth":1.2},
   "encoding":{"x":{"field":"x","type":"quantitative","scale":{"domain":[-5.1,37],"range":[55,278],"nice":false,"zero":false},"axis":{"title":"Bus Delay (s)","values":[-5,0,5,10,15,20,25,30,35],"offset":-48,"titlePadding":8}},
   "y":{"field":"n","type":"quantitative","scale":{"domain":[0,30],"range":[202,46],"nice":false},"axis":{"title":"Count","values":[0,5,10,15,20,25,30],"offset":-55}},
   "fill":{"field":"s","type":"nominal","scale":{"domain":["TSP","NonTSP"],"range":["#ff0000","#0000ff"]},"legend":{"orient":"none","legendX":61,"legendY":51,"title":null}},
   "size":{"field":"s","type":"nominal","scale":{"type":"point","range":[6.5,5],"padding":0},"legend":null}}},
  {"data":{"name":"curves"},"transform":[{"filter":"datum.p==2"}],"mark":{"type":"line","interpolate":"monotone","strokeWidth":1},
   "encoding":{"x":{"field":"x","type":"quantitative"},
   "y":{"field":"d","type":"quantitative","scale":{"domain":[0,0.12],"range":[202,46],"nice":false},"axis":{"orient":"right","title":"Probability (%)","values":[0,0.02,0.04,0.06,0.08,0.1,0.12],"format":".2f","offset":-60,"titleAngle":270,"titlePadding":14}},
   "stroke":{"field":"s","type":"nominal","scale":{"range":["#0000ff","#ff0000"]},"legend":null}}}
 ]},
 {"width":341,"height":250,"resolve":{"scale":{"y":"independent"}},"layer":[
  {"data":{"name":"bars"},"transform":[{"filter":"datum.p==3"}],"mark":{"type":"bar","orient":"vertical","stroke":"black","strokeWidth":1.2},
   "encoding":{"x":{"field":"x","type":"quantitative","scale":{"domain":[4.9,37.3],"range":[59,282],"nice":false,"zero":false},"axis":{"title":"Auto Delay (s)","values":[10,15,20,25,30,35],"offset":-48,"titlePadding":8}},
   "y":{"field":"n","type":"quantitative","scale":{"domain":[0,20],"range":[202,46],"nice":false},"axis":{"title":"Count","values":[0,2,4,6,8,10,12,14,16,18,20],"offset":-59}},
   "fill":{"field":"s","type":"nominal","scale":{"domain":["TSP","NonTSP"],"range":["#ff0000","#0000ff"]},"legend":{"orient":"none","legendX":69,"legendY":52,"title":null}},
   "size":{"field":"s","type":"nominal","scale":{"type":"point","range":[5,5.5],"padding":0},"legend":null}}},
  {"data":{"name":"curves"},"transform":[{"filter":"datum.p==3"}],"mark":{"type":"line","interpolate":"monotone","strokeWidth":1},
   "encoding":{"x":{"field":"x","type":"quantitative"},
   "y":{"field":"d","type":"quantitative","scale":{"domain":[0,0.1],"range":[202,46],"nice":false},"axis":{"orient":"right","title":"Probability (%)","values":[0,0.02,0.04,0.06,0.08,0.1],"format":".2f","offset":-59,"titleAngle":270,"titlePadding":14}},
   "stroke":{"field":"s","type":"nominal","scale":{"range":["#0000ff","#ff0000"]},"legend":null}}}
 ]},
 {"width":205,"height":250,"data":{"values":[{"t":"0.7/0.3"}]},"mark":{"type":"text","font":"Liberation Serif","fontSize":31,"dx":3,"color":"black"},"encoding":{"x":{"datum":0.5,"type":"quantitative","scale":{"domain":[0,1]},"axis":null},"y":{"datum":0.5,"type":"quantitative","scale":{"domain":[0,1]},"axis":null},"text":{"field":"t"}}},
 {"width":340,"height":250,"resolve":{"scale":{"y":"independent"}},"layer":[
  {"data":{"name":"bars"},"transform":[{"filter":"datum.p==4"}],"mark":{"type":"bar","orient":"vertical","stroke":"black","strokeWidth":1.2},
   "encoding":{"x":{"field":"x","type":"quantitative","scale":{"domain":[10.23,20.39],"range":[53,287],"nice":false,"zero":false},"axis":{"title":"Total Delay (h)","values":[12,14,16,18,20],"offset":-42,"titlePadding":8}},
   "y":{"field":"n","type":"quantitative","scale":{"domain":[0,30],"range":[208,42],"nice":false},"axis":{"title":"Count","values":[0,5,10,15,20,25,30],"offset":-53}},
   "fill":{"field":"s","type":"nominal","scale":{"domain":["TSP","NonTSP"],"range":["#ff0000","#0000ff"]},"legend":{"orient":"none","legendX":63,"legendY":53,"title":null}},
   "size":{"field":"s","type":"nominal","scale":{"type":"point","range":[7.5,4.7],"padding":0},"legend":null}}},
  {"data":{"name":"curves"},"transform":[{"filter":"datum.p==4"}],"mark":{"type":"line","interpolate":"monotone","strokeWidth":1},
   "encoding":{"x":{"field":"x","type":"quantitative"},
   "y":{"field":"d","type":"quantitative","scale":{"domain":[0,0.5],"range":[208,42],"nice":false},"axis":{"orient":"right","title":"Probability (%)","values":[0,0.1,0.2,0.3,0.4,0.5],"format":".1f","offset":-53,"titleAngle":270,"titlePadding":14}},
   "stroke":{"field":"s","type":"nominal","scale":{"range":["#0000ff","#ff0000"]},"legend":null}}}
 ]},
 {"width":338,"height":250,"resolve":{"scale":{"y":"independent"}},"layer":[
  {"data":{"name":"bars"},"transform":[{"filter":"datum.p==5"}],"mark":{"type":"bar","orient":"vertical","stroke":"black","strokeWidth":1.2},
   "encoding":{"x":{"field":"x","type":"quantitative","scale":{"domain":[-1.55,23.3],"range":[53,278],"nice":false,"zero":false},"axis":{"title":"Bus Delay (s)","values":[0,5,10,15,20],"offset":-45,"titlePadding":8}},
   "y":{"field":"n","type":"quantitative","scale":{"domain":[0,18],"range":[205,45],"nice":false},"axis":{"title":"Count","values":[0,2,4,6,8,10,12,14,16,18],"offset":-53}},
   "fill":{"field":"s","type":"nominal","scale":{"domain":["TSP","NonTSP"],"range":["#ff0000","#0000ff"]},"legend":{"orient":"none","legendX":59,"legendY":50,"title":null}},
   "size":{"field":"s","type":"nominal","scale":{"type":"point","range":[5,4.7],"padding":0},"legend":null}}},
  {"data":{"name":"curves"},"transform":[{"filter":"datum.p==5"}],"mark":{"type":"line","interpolate":"monotone","strokeWidth":1},
   "encoding":{"x":{"field":"x","type":"quantitative"},
   "y":{"field":"d","type":"quantitative","scale":{"domain":[0,0.16],"range":[205,45],"nice":false},"axis":{"orient":"right","title":"Probability (%)","values":[0,0.02,0.04,0.06,0.08,0.1,0.12,0.14,0.16],"format":".2f","offset":-60,"titleAngle":270,"titlePadding":14}},
   "stroke":{"field":"s","type":"nominal","scale":{"range":["#0000ff","#ff0000"]},"legend":null}}}
 ]},
 {"width":341,"height":250,"resolve":{"scale":{"y":"independent"}},"layer":[
  {"data":{"name":"bars"},"transform":[{"filter":"datum.p==6"}],"mark":{"type":"bar","orient":"vertical","stroke":"black","strokeWidth":1.2},
   "encoding":{"x":{"field":"x","type":"quantitative","scale":{"domain":[13.03,23.27],"range":[52,289],"nice":false,"zero":false},"axis":{"title":"Auto Delay (s)","values":[14,16,18,20,22],"offset":-40,"titlePadding":8}},
   "y":{"field":"n","type":"quantitative","scale":{"domain":[0,25],"range":[210,39],"nice":false},"axis":{"title":"Count","values":[0,5,10,15,20,25],"offset":-52}},
   "fill":{"field":"s","type":"nominal","scale":{"domain":["TSP","NonTSP"],"range":["#ff0000","#0000ff"]},"legend":{"orient":"none","legendX":62,"legendY":50,"title":null}},
   "size":{"field":"s","type":"nominal","scale":{"type":"point","range":[5,4.5],"padding":0},"legend":null}}},
  {"data":{"name":"curves"},"transform":[{"filter":"datum.p==6"}],"mark":{"type":"line","interpolate":"monotone","strokeWidth":1},
   "encoding":{"x":{"field":"x","type":"quantitative"},
   "y":{"field":"d","type":"quantitative","scale":{"domain":[0,0.4],"range":[210,39],"nice":false},"axis":{"orient":"right","title":"Probability (%)","values":[0,0.1,0.2,0.3,0.4],"format":".1f","offset":-52,"titleAngle":270,"titlePadding":14}},
   "stroke":{"field":"s","type":"nominal","scale":{"range":["#0000ff","#ff0000"]},"legend":null}}}
 ]},
 {"width":205,"height":250,"data":{"values":[{"t":"0.5/0.5"}]},"mark":{"type":"text","font":"Liberation Serif","fontSize":31,"dx":3,"color":"black"},"encoding":{"x":{"datum":0.5,"type":"quantitative","scale":{"domain":[0,1]},"axis":null},"y":{"datum":0.5,"type":"quantitative","scale":{"domain":[0,1]},"axis":null},"text":{"field":"t"}}},
 {"width":340,"height":250,"resolve":{"scale":{"y":"independent"}},"layer":[
  {"data":{"name":"bars"},"transform":[{"filter":"datum.p==7"}],"mark":{"type":"bar","orient":"vertical","stroke":"black","strokeWidth":1.2},
   "encoding":{"x":{"field":"x","type":"quantitative","scale":{"domain":[11.07,20.41],"range":[56,282],"nice":false,"zero":false},"axis":{"title":"Total Delay (h)","values":[12,14,16,18,20],"offset":-44,"titlePadding":8}},
   "y":{"field":"n","type":"quantitative","scale":{"domain":[0,25],"range":[206,45],"nice":false},"axis":{"title":"Count","values":[0,5,10,15,20,25],"offset":-56}},
   "fill":{"field":"s","type":"nominal","scale":{"domain":["TSP","NonTSP"],"range":["#ff0000","#0000ff"]},"legend":{"orient":"none","legendX":62,"legendY":53,"title":null}},
   "size":{"field":"s","type":"nominal","scale":{"type":"point","range":[5,5],"padding":0},"legend":null}}},
  {"data":{"name":"curves"},"transform":[{"filter":"datum.p==7"}],"mark":{"type":"line","interpolate":"monotone","strokeWidth":1},
   "encoding":{"x":{"field":"x","type":"quantitative"},
   "y":{"field":"d","type":"quantitative","scale":{"domain":[0,0.4],"range":[206,45],"nice":false},"axis":{"orient":"right","title":"Probability (%)","values":[0,0.1,0.2,0.3,0.4],"format":".1f","offset":-58,"titleAngle":270,"titlePadding":14}},
   "stroke":{"field":"s","type":"nominal","scale":{"range":["#0000ff","#ff0000"]},"legend":null}}}
 ]},
 {"width":338,"height":250,"resolve":{"scale":{"y":"independent"}},"layer":[
  {"data":{"name":"bars"},"transform":[{"filter":"datum.p==8"}],"mark":{"type":"bar","orient":"vertical","stroke":"black","strokeWidth":1.2},
   "encoding":{"x":{"field":"x","type":"quantitative","scale":{"domain":[0,22.25],"range":[54,278],"nice":false,"zero":false},"axis":{"title":"Bus Delay (s)","values":[0,5,10,15,20],"offset":-44,"titlePadding":8}},
   "y":{"field":"n","type":"quantitative","scale":{"domain":[0,30],"range":[206,45],"nice":false},"axis":{"title":"Count","values":[0,5,10,15,20,25,30],"offset":-54}},
   "fill":{"field":"s","type":"nominal","scale":{"domain":["TSP","NonTSP"],"range":["#ff0000","#0000ff"]},"legend":{"orient":"none","legendX":212,"legendY":52,"title":null}},
   "size":{"field":"s","type":"nominal","scale":{"type":"point","range":[5.5,5],"padding":0},"legend":null}}},
  {"data":{"name":"curves"},"transform":[{"filter":"datum.p==8"}],"mark":{"type":"line","interpolate":"monotone","strokeWidth":1},
   "encoding":{"x":{"field":"x","type":"quantitative"},
   "y":{"field":"d","type":"quantitative","scale":{"domain":[0,0.25],"range":[206,45],"nice":false},"axis":{"orient":"right","title":"Probability (%)","values":[0,0.05,0.1,0.15,0.2,0.25],"format":".2f","offset":-60,"titleAngle":270,"titlePadding":14}},
   "stroke":{"field":"s","type":"nominal","scale":{"range":["#0000ff","#ff0000"]},"legend":null}}}
 ]},
 {"width":341,"height":250,"resolve":{"scale":{"y":"independent"}},"layer":[
  {"data":{"name":"bars"},"transform":[{"filter":"datum.p==9"}],"mark":{"type":"bar","orient":"vertical","stroke":"black","strokeWidth":1.2},
   "encoding":{"x":{"field":"x","type":"quantitative","scale":{"domain":[14.54,23.03],"range":[60,281],"nice":false,"zero":false},"axis":{"title":"Auto Delay (s)","values":[15,16,17,18,19,20,21,22,23],"offset":-44,"titlePadding":8}},
   "y":{"field":"n","type":"quantitative","scale":{"domain":[0,20],"range":[206,46],"nice":false},"axis":{"title":"Count","values":[0,5,10,15,20],"offset":-60}},
   "fill":{"field":"s","type":"nominal","scale":{"domain":["TSP","NonTSP"],"range":["#ff0000","#0000ff"]},"legend":{"orient":"none","legendX":65,"legendY":50,"title":null}},
   "size":{"field":"s","type":"nominal","scale":{"type":"point","range":[5.5,5],"padding":0},"legend":null}}},
  {"data":{"name":"curves"},"transform":[{"filter":"datum.p==9"}],"mark":{"type":"line","interpolate":"monotone","strokeWidth":1},
   "encoding":{"x":{"field":"x","type":"quantitative"},
   "y":{"field":"d","type":"quantitative","scale":{"domain":[0,0.5],"range":[206,46],"nice":false},"axis":{"orient":"right","title":"Probability (%)","values":[0,0.1,0.2,0.3,0.4,0.5],"format":".1f","offset":-60,"titleAngle":270,"titlePadding":14}},
   "stroke":{"field":"s","type":"nominal","scale":{"range":["#0000ff","#ff0000"]},"legend":null}}}
 ]},
 {"width":205,"height":250,"data":{"values":[{"t":"0.3/0.7"}]},"mark":{"type":"text","font":"Liberation Serif","fontSize":31,"dx":3,"color":"black"},"encoding":{"x":{"datum":0.5,"type":"quantitative","scale":{"domain":[0,1]},"axis":null},"y":{"datum":0.5,"type":"quantitative","scale":{"domain":[0,1]},"axis":null},"text":{"field":"t"}}},
 {"width":340,"height":250,"resolve":{"scale":{"y":"independent"}},"layer":[
  {"data":{"name":"bars"},"transform":[{"filter":"datum.p==10"}],"mark":{"type":"bar","orient":"vertical","stroke":"black","strokeWidth":1.2},
   "encoding":{"x":{"field":"x","type":"quantitative","scale":{"domain":[9.56,29.6],"range":[56,283],"nice":false,"zero":false},"axis":{"title":"Total Delay (h)","values":[10,12,14,16,18,20,22,24,26,28],"offset":-42,"titlePadding":8}},
   "y":{"field":"n","type":"quantitative","scale":{"domain":[0,25],"range":[208,46],"nice":false},"axis":{"title":"Count","values":[0,5,10,15,20,25],"offset":-56}},
   "fill":{"field":"s","type":"nominal","scale":{"domain":["TSP","NonTSP"],"range":["#ff0000","#0000ff"]},"legend":{"orient":"none","legendX":219,"legendY":57,"title":null}},
   "size":{"field":"s","type":"nominal","scale":{"type":"point","range":[2.3,5],"padding":0},"legend":null}}},
  {"data":{"name":"curves"},"transform":[{"filter":"datum.p==10"}],"mark":{"type":"line","interpolate":"monotone","strokeWidth":1},
   "encoding":{"x":{"field":"x","type":"quantitative"},
   "y":{"field":"d","type":"quantitative","scale":{"domain":[0,0.6],"range":[208,46],"nice":false},"axis":{"orient":"right","title":"Probability (%)","values":[0,0.1,0.2,0.3,0.4,0.5,0.6],"format":".1f","offset":-57,"titleAngle":270,"titlePadding":14}},
   "stroke":{"field":"s","type":"nominal","scale":{"range":["#0000ff","#ff0000"]},"legend":null}}}
 ]},
 {"width":338,"height":250,"resolve":{"scale":{"y":"independent"}},"layer":[
  {"data":{"name":"bars"},"transform":[{"filter":"datum.p==11"}],"mark":{"type":"bar","orient":"vertical","stroke":"black","strokeWidth":1.2},
   "encoding":{"x":{"field":"x","type":"quantitative","scale":{"domain":[-2.46,44.6],"range":[47,283],"nice":false,"zero":false},"axis":{"title":"Bus Delay (s)","values":[0,10,20,30,40],"offset":-38,"titlePadding":8}},
   "y":{"field":"n","type":"quantitative","scale":{"domain":[0,25],"range":[212,42],"nice":false},"axis":{"title":"Count","values":[0,5,10,15,20,25],"offset":-47}},
   "fill":{"field":"s","type":"nominal","scale":{"domain":["TSP","NonTSP"],"range":["#ff0000","#0000ff"]},"legend":{"orient":"none","legendX":222,"legendY":49,"title":null}},
   "size":{"field":"s","type":"nominal","scale":{"type":"point","range":[5,3.7],"padding":0},"legend":null}}},
  {"data":{"name":"curves"},"transform":[{"filter":"datum.p==11"}],"mark":{"type":"line","interpolate":"monotone","strokeWidth":1},
   "encoding":{"x":{"field":"x","type":"quantitative"},
   "y":{"field":"d","type":"quantitative","scale":{"domain":[0,0.25],"range":[212,42],"nice":false},"axis":{"orient":"right","title":"Probability (%)","values":[0,0.05,0.1,0.15,0.2,0.25],"format":".2f","offset":-55,"titleAngle":270,"titlePadding":14}},
   "stroke":{"field":"s","type":"nominal","scale":{"range":["#0000ff","#ff0000"]},"legend":null}}}
 ]},
 {"width":341,"height":250,"resolve":{"scale":{"y":"independent"}},"layer":[
  {"data":{"name":"bars"},"transform":[{"filter":"datum.p==12"}],"mark":{"type":"bar","orient":"vertical","stroke":"black","strokeWidth":1.2},
   "encoding":{"x":{"field":"x","type":"quantitative","scale":{"domain":[11.35,33.98],"range":[57,285],"nice":false,"zero":false},"axis":{"title":"Auto Delay (s)","values":[15,20,25,30],"offset":-41,"titlePadding":8}},
   "y":{"field":"n","type":"quantitative","scale":{"domain":[0,20],"range":[209,44],"nice":false},"axis":{"title":"Count","values":[0,2,4,6,8,10,12,14,16,18,20],"offset":-57}},
   "fill":{"field":"s","type":"nominal","scale":{"domain":["TSP","NonTSP"],"range":["#ff0000","#0000ff"]},"legend":{"orient":"none","legendX":221,"legendY":58,"title":null}},
   "size":{"field":"s","type":"nominal","scale":{"type":"point","range":[2.3,5],"padding":0},"legend":null}}},
  {"data":{"name":"curves"},"transform":[{"filter":"datum.p==12"}],"mark":{"type":"line","interpolate":"monotone","strokeWidth":1},
   "encoding":{"x":{"field":"x","type":"quantitative"},
   "y":{"field":"d","type":"quantitative","scale":{"domain":[0,0.6],"range":[209,44],"nice":false},"axis":{"orient":"right","title":"Probability (%)","values":[0,0.1,0.2,0.3,0.4,0.5,0.6],"format":".1f","offset":-56,"titleAngle":270,"titlePadding":14}},
   "stroke":{"field":"s","type":"nominal","scale":{"range":["#0000ff","#ff0000"]},"legend":null}}}
 ]}
],
"resolve":{"scale":{"fill":"independent","stroke":"independent","size":"independent"},"legend":{"fill":"independent"}},
"config":{
 "view":{"stroke":"black","strokeWidth":1},
 "font":"Liberation Sans",
 "axis":{"grid":false,"domainColor":"black","domainWidth":1,"tickColor":"black","tickSize":3,"tickWidth":1,"labelFont":"Liberation Sans","labelFontSize":6,"labelColor":"black","labelPadding":1.5,"labelFlush":false,"labelOverlap":false,"titleFont":"Liberation Sans","titleFontSize":7,"titleFontWeight":"normal","titleColor":"black","titlePadding":4},
 "legend":{"labelFont":"Liberation Sans","labelFontSize":6,"labelColor":"black","strokeColor":"black","fillColor":"white","padding":4,"symbolType":"M-1,-0.35H1V0.35H-1Z","symbolSize":256,"symbolStrokeColor":"black","symbolStrokeWidth":1,"symbolOpacity":1,"rowPadding":1,"labelOffset":4,"clipHeight":8}
}
}
